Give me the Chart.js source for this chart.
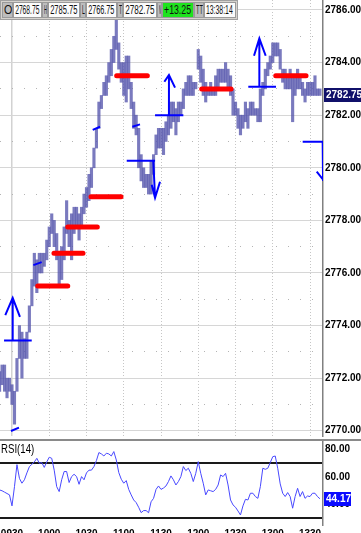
<!DOCTYPE html>
<html>
<head>
<meta charset="utf-8">
<script src="https://cdn.jsdelivr.net/npm/chart.js@4.4.0/dist/chart.umd.min.js"></script>
<style>
body{margin:0;background:#fff;}
#marco{position:relative;width:361px;height:533px;overflow:hidden;background:#fff}
canvas{position:absolute;left:0}
#precio{top:0}
#rsi{top:441px}
#barra{position:absolute;left:0;top:0;width:238px;height:20px;background:#d6d3ce;border:1px solid #a0a0a0;box-sizing:border-box;z-index:3}
.c{position:absolute;top:1px;height:16px;box-sizing:border-box;border:1px solid #9a9a9a;font:12px "Liberation Sans",Arial,sans-serif;line-height:14px;white-space:nowrap;overflow:hidden;color:#111}
.et{background:#bdbdbd}
.v{background:#fbfbfb}
.verde{background:#1ee31e}
.c span{position:absolute;top:0}
.et span{left:1px;transform-origin:left}
.v span{right:2px;transform-origin:right}
#sep{position:absolute;left:0;top:439px;width:361px;height:2px;background:#8a8a8a;z-index:2}
#titRsi{position:absolute;left:1px;top:442px;font:12px "Liberation Sans",Arial,sans-serif;z-index:2}
</style>
</head>
<body>
<div id="marco">
  <canvas id="precio" width="361" height="440"></canvas>
  <div id="barra"></div>
  <div id="sep"></div>
  <canvas id="rsi" width="361" height="92"></canvas>
  <div id="titRsi"><span>RSI(14)</span></div>
</div>
<script>
// barras de 2 minutos, el minuto 0 son las 09:30
const inicio = -10;
const paso = 2;

// maximos y minimos de cada barra
const maximos = [
  2772.25,2772.5,2772.5,2772,2772,2771.75,2771.5,2772.75,2774,2773.75,
  2773.5,2773.75,2774.75,2775.75,2776.75,2776.5,2776.75,2776.75,2776.75,2777.25,
  2777.75,2778.25,2778,2777.5,2776.75,2777,2777.75,2778.75,2778,2778.25,
  2778.5,2778.5,2778.25,2778.5,2779,2779.25,2779.75,2780,2780.75,2781.5,
  2782.5,2782.75,2783.25,2783.5,2784,2784.5,2785,2785.75,2784.75,2784,
  2784,2784.25,2784.25,2783.25,2782.5,2782,2781.5,2780.5,2780,2779.75,
  2779.75,2780.25,2780.5,2781.25,2781.5,2781.5,2781.5,2781.75,2782,2782.5,
  2782.5,2782.25,2782.5,2782.5,2783,2783.25,2783.5,2783.5,2783.25,2783.25,
  2784.5,2784.25,2783.75,2783.25,2783,2783.25,2783,2783.5,2783.75,2783.75,
  2783.75,2784,2783.75,2783.5,2783,2782.5,2782.25,2782,2782,2782.5,
  2782.25,2782.5,2782.5,2782.25,2782.25,2783,2783.25,2783.75,2784,2784.25,
  2784.75,2784.75,2784.75,2784.5,2783.75,2783.75,2783.5,2783.75,2783.5,2783.5,
  2783.75,2783.5,2783.25,2783,2783.25,2783.25,2783.25,2783.5,2783,2783
];
const minimos = [
  2771.5,2771.75,2771.5,2771.25,2771.5,2771,2770.25,2771.5,2772.75,2772,
  2772.75,2772.75,2773.75,2774.75,2775.5,2775.25,2776,2776,2776.25,2776.5,
  2777,2777.5,2777,2776.5,2775.5,2775.75,2776.5,2777.5,2777,2776.5,
  2777.5,2777.75,2777.25,2777.75,2778.25,2778.5,2778.75,2779.25,2780,2780.75,
  2781.5,2782.25,2782.75,2782.75,2783.25,2783.5,2784,2784.5,2783.75,2783.25,
  2782.75,2782.5,2783,2782.25,2781.5,2781.25,2780,2779.5,2779.25,2779.25,
  2779,2779,2779.75,2780.5,2780.75,2780.75,2780.5,2781,2781.25,2781.5,
  2781.75,2781.25,2781.75,2782,2782.25,2782.75,2782.75,2782.75,2782.75,2783,
  2783.75,2783.25,2782.75,2782.5,2782.75,2782.75,2782.75,2782.75,2783,2783.25,
  2783.25,2783.25,2783,2782.75,2782,2782,2781.5,2781.25,2781.5,2781.75,
  2781.5,2782,2782,2782,2781.75,2781.75,2782.75,2783,2783.5,2783.75,
  2784,2784.25,2784.25,2783.75,2783.25,2783,2783,2783,2781.75,2782.75,
  2783,2783,2782.75,2782.5,2782.75,2782.75,2782.75,2782.75,2782.75,2782.75
];
const rsi = [
  50.6,50,49,48,47,39,53,69,59,55.5,
  58,63,67.5,69.3,71,73.6,70,70.5,67,71,
  74.4,73.6,65,53,49.4,58,64,64,56,60.3,
  62,60.3,54.7,60.3,58,63,65,65,67.6,72,
  77.8,76.8,75.3,77.3,76.8,75.3,78.5,72.4,63.2,58.4,
  55.5,57.4,51,47,43.3,41.4,38,34.1,35.6,35.6,
  34,42,44.5,51,53.5,51,52,53.5,56.7,60.8,
  58,54.2,56.7,60.3,67.6,64.7,66.4,62.7,56.7,62.7,
  71.2,62.7,55.5,47,50.6,50,49.4,51,54.2,61.5,
  60.3,62.7,54.2,43.3,39.7,38,35.3,32.4,39,43.8,
  43.3,48.2,48.2,45.8,44.5,53,66.4,65.6,66.4,70.5,
  74.8,75.3,66.4,55,48.2,45.8,48.7,45.8,37.3,45.8,
  51.8,45.8,49.4,44.5,46.2,45.8,48.2,48.2,45.8,44.17
];
const ultimo = 2782.75;
const ultimoRsi = 44.17;

// niveles rojos: precio, minuto inicial, minuto final
const nivelPrecio = [2775.5, 2776.75, 2777.75, 2778.9, 2783.5, 2783.0, 2783.5];
const nivelDesde  = [20.7, 33.8, 44.9, 63.6, 84.3, 152.8, 212.4];
const nivelHasta  = [44.9, 57.2, 68.7, 87.8, 109, 176.4, 236.8];

// trazos azules dibujados a mano (minuto, precio)
const trazosAzules = [
  [[-6.4,2773.43],[15.9,2773.43]],
  [[0.56,2773.43],[0.56,2775.05]],
  [[-5.4,2774.4],[0.56,2775.05],[6.4,2774.33]],
  [[-0.8,2769.99],[5.6,2770.12]],
  [[17.2,2776.3],[23.9,2776.41]],
  [[65,2781.44],[70.9,2781.56]],
  [[96.9,2781.56],[103.1,2781.65]],
  [[92.4,2780.27],[115.2,2780.27]],
  [[113.8,2780.27],[115.2,2778.86]],
  [[112.5,2779.35],[115.2,2778.86],[119.2,2779.47]],
  [[115.2,2782],[138,2782]],
  [[126.4,2782],[126.4,2783.53]],
  [[122.7,2783.27],[126.4,2783.53],[131.3,2783.05]],
  [[190.3,2783.08],[212.6,2783.08]],
  [[199.2,2783.08],[199.2,2784.92]],
  [[194.9,2784.26],[199.2,2784.92],[204.3,2784.26]],
  [[234.1,2780.99],[250.7,2780.99]],
  [[250.2,2780.99],[250.5,2779.5]],
  [[245.4,2779.85],[250.7,2779.54]]
];

const etiquetasHora = ['0930','1000','1030','1100','1130','1200','1230','1300','1330'];

// barra de cotizacion de arriba
const celdas = [
  ['O',2,13,'et'],['2768.75',13,42,'v'],
  ['H',42,48,'et'],['2785.75',48,80,'v'],
  ['L',80,86,'et'],['2766.75',86,117,'v'],
  ['T',117,123,'et'],['2782.75',123,157,'v'],
  ['N',157,162,'et'],['+13.25',162,194,'v verde'],
  ['TT',194,204,'et'],['13:38:14',204,236,'v']
];

const xMin = -9.66, xMax = 250.46;
const fuente = '"Liberation Sans", Arial, sans-serif';

const barra = document.getElementById('barra');
celdas.forEach(([txt, x0, x1, cls]) => {
  const d = document.createElement('div');
  d.className = 'c ' + cls;
  d.style.left = (x0 - 1) + 'px';
  d.style.width = (x1 - x0) + 'px';
  const s = document.createElement('span');
  s.textContent = txt;
  d.appendChild(s);
  barra.appendChild(d);
  //el texto es angosto, lo achico para que entre en la celda
  const disp = (x1 - x0) - (cls === 'et' ? 3 : 5);
  const w = s.offsetWidth;
  if (w > disp) s.style.transform = 'scaleX(' + (disp / w) + ')';
});
const tit = document.querySelector('#titRsi span');
tit.style.display = 'inline-block';
tit.style.transform = 'scaleX(' + (33 / tit.offsetWidth) + ')';
tit.style.transformOrigin = 'left';

// armo los datos para chart.js
const barras = maximos.map((h, i) => ({x: inicio + i * paso, y: [minimos[i], h]}));
const puntosRsi = rsi.map((v, i) => ({x: inicio + i * paso, y: v}));

const rojas = [];
nivelPrecio.forEach((p, i) => {
  rojas.push({x: nivelDesde[i], y: p}, {x: nivelHasta[i], y: p}, {x: nivelHasta[i], y: null});
});
const azules = [];
trazosAzules.forEach(t => {
  t.forEach(p => azules.push({x: p[0], y: p[1]}));
  azules.push({x: t[t.length - 1][0], y: null});
});

// caja con el ultimo valor sobre el eje
const etiquetaUltimo = {
  id: 'ultimo',
  afterDraw(chart, args, opts) {
    const {ctx, chartArea} = chart;
    const y = Math.round(chart.scales.y.getPixelForValue(opts.valor));
    ctx.save();
    ctx.fillStyle = opts.fondo;
    ctx.fillRect(chartArea.right + 1, y - 7, opts.ancho, 14);
    ctx.fillStyle = '#fff';
    ctx.font = 'bold 10px ' + fuente;
    ctx.textBaseline = 'middle';
    ctx.fillText(opts.valor.toFixed(2), chartArea.right + 3, y + 0.5);
    ctx.restore();
  }
};

const par = c => c.tick && Math.round(c.tick.value) % 2 === 0;

new Chart(document.getElementById('precio'), {
  data: {
    datasets: [
      {type: 'bar', data: barras, backgroundColor: 'rgba(84,84,172,0.78)', borderWidth: 0,
       barPercentage: 1, categoryPercentage: 1, grouped: false, order: 3},
      {type: 'line', data: rojas, borderColor: '#ff0000', borderWidth: 5, borderCapStyle: 'round',
       pointRadius: 0, spanGaps: false, order: 2},
      {type: 'line', data: azules, borderColor: '#0000ff', borderWidth: 2,
       pointRadius: 0, spanGaps: false, order: 1}
    ]
  },
  options: {
    responsive: false,
    animation: false,
    devicePixelRatio: 1,
    layout: {padding: 0},
    plugins: {
      legend: {display: false},
      tooltip: {enabled: false},
      ultimo: {valor: ultimo, fondo: '#10106a', ancho: 38}
    },
    scales: {
      x: {
        type: 'linear', min: xMin, max: xMax, offset: false,
        afterFit: s => { s.height = 4; s.paddingLeft = 0; s.paddingRight = 0; },
        ticks: {display: false, stepSize: 30, includeBounds: false},
        grid: {offset: false, drawTicks: false,
               color: c => c.tick && c.tick.value === 0 ? '#d2d2d2' : '#c6c6c6',
               lineWidth: c => c.tick && c.tick.value === 0 ? 1.5 : 1},
        border: {display: false, dash: c => c.tick && c.tick.value === 0 ? [] : [1, 2]}
      },
      y: {
        type: 'linear', position: 'right', min: 2769.8, max: 2786.38,
        afterFit: s => { s.width = 38; s.paddingTop = 0; s.paddingBottom = 0; },
        ticks: {stepSize: 1, includeBounds: false, autoSkip: false, padding: 2, color: '#000',
                font: {family: fuente, size: 10, weight: 'bold'},
                callback: v => Math.round(v) % 2 === 0 ? v.toFixed(2) : ''},
        grid: {drawTicks: false, color: c => par(c) ? '#d6d6d6' : '#b4b4b4'},
        border: {display: true, color: '#808080', width: 1.5, dash: c => c.tick && !par(c) ? [1, 11] : []}
      }
    }
  },
  plugins: [etiquetaUltimo]
});

new Chart(document.getElementById('rsi'), {
  type: 'line',
  data: {
    datasets: [
      {data: puntosRsi, borderColor: '#4848ff', borderWidth: 1, pointRadius: 0, tension: 0}
    ]
  },
  options: {
    responsive: false,
    animation: false,
    devicePixelRatio: 1,
    layout: {padding: 0},
    plugins: {
      legend: {display: false},
      tooltip: {enabled: false},
      ultimo: {valor: ultimoRsi, fondo: '#0a0aff', ancho: 27}
    },
    scales: {
      x: {
        type: 'linear', min: xMin, max: xMax, offset: false,
        afterFit: s => { s.height = 8; s.paddingLeft = 0; s.paddingRight = 0; },
        ticks: {stepSize: 30, includeBounds: false, autoSkip: false, maxRotation: 0, padding: 3,
                color: '#000', font: {family: '"Liberation Sans Narrow", ' + fuente, size: 10, weight: 'bold'},
                callback: v => etiquetasHora[Math.round(v / 30)]},
        grid: {display: false, drawTicks: false},
        border: {display: false}
      },
      y: {
        type: 'linear', position: 'right', min: 25.1, max: 86.2,
        afterFit: s => { s.width = 38; s.paddingTop = 0; s.paddingBottom = 0; },
        ticks: {stepSize: 10, includeBounds: false, autoSkip: false, padding: 2, color: '#000',
                font: {family: fuente, size: 10, weight: 'bold'},
                callback: v => (v === 40 || v === 60 || v === 80) ? v.toFixed(2) : ''},
        grid: {drawTicks: false, lineWidth: 2,
               color: c => c.tick && (c.tick.value === 70 || c.tick.value === 30) ? '#1a1a1a' : 'rgba(0,0,0,0)'},
        border: {display: true, color: '#808080', width: 1.5}
      }
    }
  },
  plugins: [etiquetaUltimo]
});
</script>
</body>
</html>
